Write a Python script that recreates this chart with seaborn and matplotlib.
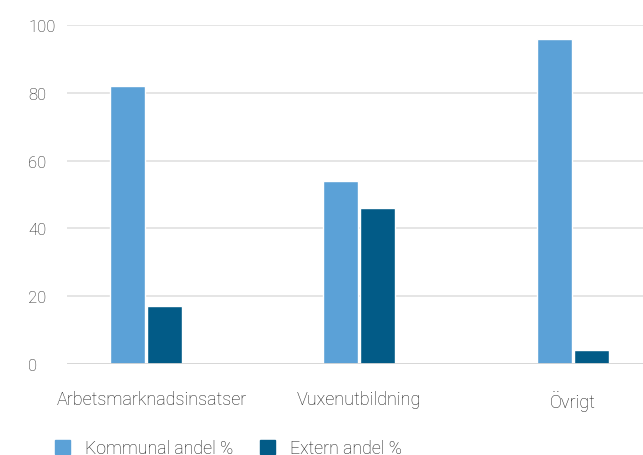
import pandas as pd
import seaborn as sns
import matplotlib.pyplot as plt
from matplotlib.transforms import ScaledTranslation

# data
categories = ['Arbetsmarknadsinsatser', 'Vuxenutbildning', 'Övrigt']
kommunal = [82, 54, 96]
extern = [17, 46, 4]
series_names = ['Kommunal andel %', 'Extern andel %']
colors = ['#5ba1d7', '#025b87']

df = pd.DataFrame({
    'kategori': categories * 2,
    'andel': kommunal + extern,
    'serie': [series_names[0]] * 3 + [series_names[1]] * 3,
})

sns.set_style('white')
plt.rcParams['font.family'] = ['Roboto', 'DejaVu Sans']
plt.rcParams['font.weight'] = 'light'

fig = plt.figure(figsize=(6.43, 4.56), dpi=100)
ax = fig.add_axes([67 / 643, 91 / 456, 576 / 643, 339 / 456])

sns.barplot(data=df, x='kategori', y='andel', hue='serie', palette=colors,
            width=0.347, gap=0.055, ax=ax, legend=False, saturation=1)

ax.set_ylim(0, 100)
ax.set_xlim(-0.37, 2.33)
ax.set_yticks([0, 20, 40, 60, 80, 100])
ax.yaxis.grid(True, color='#e0e0e0', linewidth=1.2)
ax.set_axisbelow(True)
ax.axhline(0, color='#d6d6d6', linewidth=2)
sns.despine(ax=ax, left=True, bottom=True)
ax.set_xlabel('')
ax.set_ylabel('')
ax.tick_params(axis='y', length=0, pad=28, labelsize=12, labelcolor='#222222')
ax.tick_params(axis='x', length=0, pad=19, labelsize=13, labelcolor='#1a1a1a')
for lbl in ax.get_yticklabels():
    lbl.set_horizontalalignment('left')

# first category label sits a bit right of its bars in the original
first = ax.get_xticklabels()[0]
first.set_transform(first.get_transform() + ScaledTranslation(0.06, 0, fig.dpi_scale_trans))

handles = [plt.Rectangle((0, 0), 1, 1, color=c) for c in colors]
fig.legend(handles, series_names, loc='center left', bbox_to_anchor=(39 / 643, 7 / 456),
           frameon=False, fontsize=12.8, handlelength=0.85, handleheight=0.85,
           handletextpad=0.85, columnspacing=1.5, ncol=2, labelcolor='#1a1a1a')

fig.savefig('out.png', dpi=100)
